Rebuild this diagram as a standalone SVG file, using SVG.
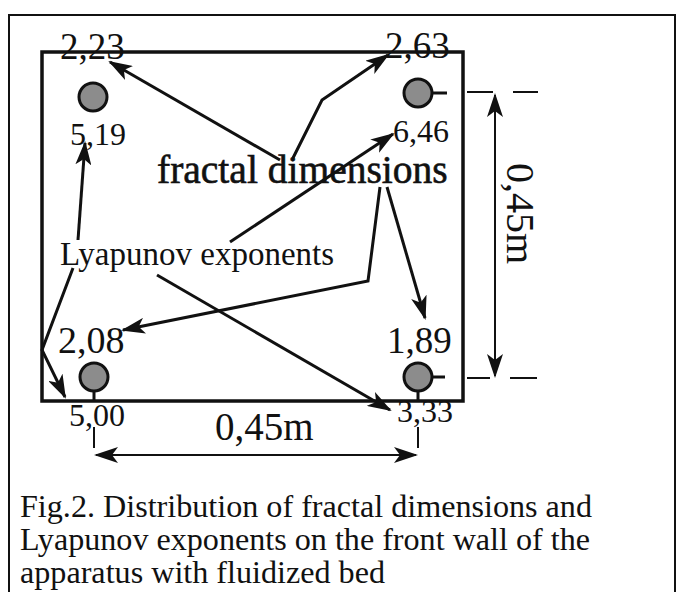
<svg xmlns="http://www.w3.org/2000/svg" width="678" height="592" viewBox="0 0 678 592">
<defs>
<style>
.t{font-family:"Liberation Serif","Times New Roman",serif;fill:#111}
.c{stroke:#111;stroke-width:3;fill:none}
.a{stroke:#111;stroke-width:3;fill:none;marker-end:url(#ah)}
.w{stroke:#111;stroke-width:2;fill:none}
.p{fill:#8c8c8c;stroke:#111;stroke-width:3}
</style>
<marker id="ah" viewBox="0 0 24 16" refX="22" refY="8" markerWidth="24" markerHeight="16" markerUnits="userSpaceOnUse" orient="auto">
<path d="M24,8 L0,0 L6,8 L0,16 Z" fill="#111"/>
</marker>
<marker id="as" viewBox="0 0 24 16" refX="2" refY="8" markerWidth="24" markerHeight="16" markerUnits="userSpaceOnUse" orient="auto">
<path d="M0,8 L24,0 L18,8 L24,16 Z" fill="#111"/>
</marker>
</defs>
<rect x="9" y="15" width="666" height="600" fill="#fff" stroke="#111" stroke-width="2"/>
<g id="apparatus">
<rect x="42" y="52" width="421" height="349" fill="none" stroke="#111" stroke-width="3.5"/>
</g>
<g id="sensor-tl"><circle class="p" cx="93" cy="97" r="14"/></g>
<g id="sensor-tr"><circle class="p" cx="418" cy="93" r="14"/><line class="c" x1="432" y1="93" x2="447" y2="93"/></g>
<g id="sensor-bl"><circle class="p" cx="94" cy="377" r="14"/><line class="c" x1="94" y1="391" x2="94" y2="401"/></g>
<g id="sensor-br"><circle class="p" cx="418" cy="377" r="14"/><line class="c" x1="432" y1="377" x2="445" y2="377"/><line class="c" x1="418" y1="391" x2="418" y2="400"/></g>
<g id="values" class="t">
<text x="60" y="59" font-size="37">2,23</text>
<text x="385" y="58" font-size="37">2,63</text>
<text x="70" y="145" font-size="32">5,19</text>
<text x="393" y="142" font-size="32">6,46</text>
<text x="58" y="353" font-size="38">2,08</text>
<text x="387" y="353" font-size="37">1,89</text>
<text x="69" y="426" font-size="32">5,00</text>
<text x="397" y="422" font-size="32">3,33</text>
</g>
<g id="label-fd"><text class="t" x="157" y="183" font-size="39.5" stroke="#111" stroke-width="0.6">fractal dimensions</text></g>
<g id="label-le"><text class="t" x="60" y="265" font-size="33">Lyapunov exponents</text></g>
<g id="connectors">
<line class="a" x1="280" y1="160" x2="110" y2="62"/>
<polyline class="a" points="293,158 322,100 388,55"/>
<line class="a" x1="230" y1="242" x2="393" y2="134"/>
<polyline class="a" points="380,187 368,281 123,330"/>
<line class="a" x1="387" y1="187" x2="425" y2="318"/>
<line class="a" x1="78" y1="240" x2="85" y2="143"/>
<polyline class="a" points="73,268 42,350 65,397"/>
<line class="a" x1="157" y1="275" x2="390" y2="410"/>
</g>
<g id="dim-vertical">
<line class="w" x1="467" y1="92" x2="493" y2="92"/>
<line class="w" x1="513" y1="92" x2="538" y2="92"/>
<line class="w" x1="467" y1="378" x2="490" y2="378"/>
<line class="w" x1="510" y1="378" x2="537" y2="378"/>
<line class="w" x1="495" y1="95" x2="495" y2="376" stroke-width="2.5" marker-start="url(#as)" marker-end="url(#ah)"/>
<text class="t" font-size="40" transform="translate(507,163) rotate(90)">0,45m</text>
</g>
<g id="dim-horizontal">
<line class="w" x1="94" y1="427" x2="94" y2="448" stroke-width="2.5"/>
<line class="w" x1="418" y1="427" x2="418" y2="448" stroke-width="2.5"/>
<line class="w" x1="96" y1="455" x2="416" y2="455" stroke-width="2.5" marker-start="url(#as)" marker-end="url(#ah)"/>
<text class="t" x="215" y="440" font-size="39">0,45m</text>
</g>
<g id="caption" class="t" font-size="30.5">
<text x="20" y="517" textLength="572" lengthAdjust="spacingAndGlyphs">Fig.2. Distribution of fractal dimensions and</text>
<text x="20" y="550" textLength="570" lengthAdjust="spacingAndGlyphs">Lyapunov exponents on the front wall of the</text>
<text x="20" y="583" textLength="365" lengthAdjust="spacingAndGlyphs">apparatus with fluidized bed</text>
</g>
</svg>
